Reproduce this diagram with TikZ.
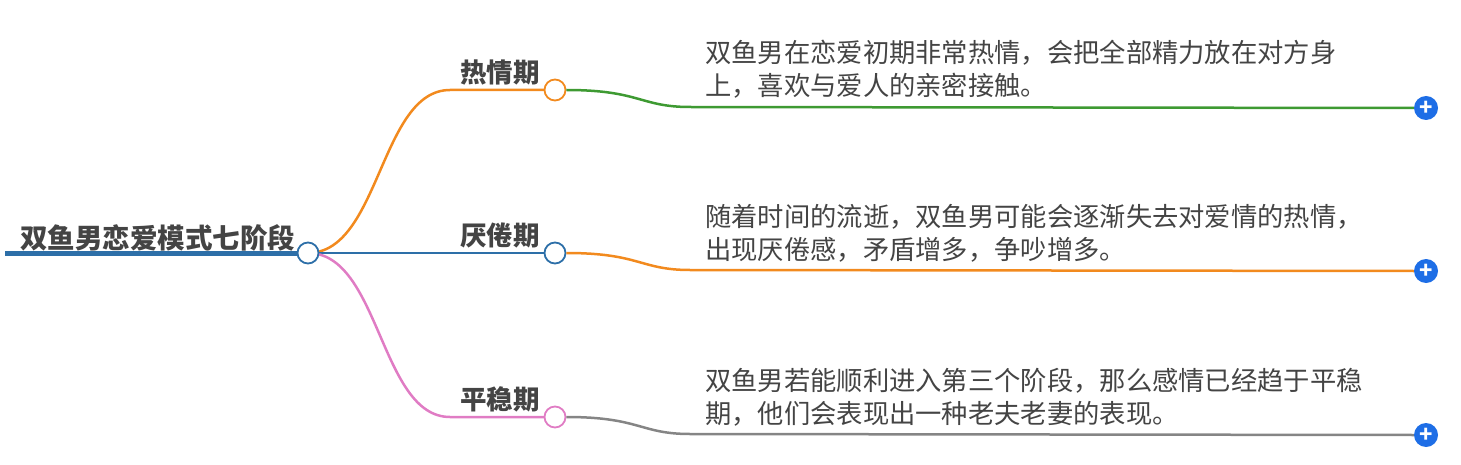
\documentclass[tikz,border=0pt]{standalone}
\usepackage{fontspec}
\setmainfont{Noto Sans CJK SC}
\definecolor{cor}{HTML}{F28A1E}
\definecolor{cgr}{HTML}{3E9A32}
\definecolor{cbl}{HTML}{2D6FA8}
\definecolor{cpk}{HTML}{E07CC4}
\definecolor{cgy}{HTML}{858585}
\definecolor{cpl}{HTML}{1E6EE6}
\definecolor{ctx}{HTML}{444444}
\tikzset{x=1pt,y=-1pt,
 dot/.style={circle,draw=#1,fill=white,line width=1.8pt,minimum size=21pt,inner sep=0pt},
 plus/.style={circle,fill=cpl,minimum size=24pt,inner sep=0pt,text=white,font=\bfseries\fontsize{22}{22}\selectfont},
 lab/.style={font=\bfseries\fontsize{26.5}{26.5}\selectfont,text=ctx,anchor=south east,inner sep=0pt},
 desc/.style={font=\fontsize{26.3}{33}\selectfont,text=ctx,anchor=north west,align=left,inner sep=0pt},
 br/.style={line width=2.5pt}}
\begin{document}
\begin{tikzpicture}
\useasboundingbox (0,0) rectangle (1461,465);
\draw[cbl,line width=5pt] (5,253) -- (300,253);
\node[font=\bfseries\fontsize{27.5}{27.5}\selectfont,text=ctx,anchor=south west,inner sep=0pt] (root) at (20,251) {双鱼男恋爱模式七阶段};
\coordinate (rc) at (308,253);
\draw[cor,br] (rc) .. controls (380,253) and (380,90) .. (450,90) -- (545,90);
\draw[cbl,br] (rc) -- (545,253);
\draw[cpk,br] (rc) .. controls (380,253) and (380,417) .. (450,417) -- (545,417);
\node[dot=cbl] (r) at (rc) {};
\node[lab] (l1) at (540,85) {热情期};
\node[lab] (l2) at (540,248) {厌倦期};
\node[lab] (l3) at (540,412) {平稳期};
\node[dot=cor] (c1) at (555,90) {};
\node[dot=cbl] (c2) at (555,253) {};
\node[dot=cpk] (c3) at (555,417) {};
\node[plus] (p1) at (1426,108) {+};
\node[plus] (p2) at (1426,271) {+};
\node[plus] (p3) at (1426,435) {+};
\draw[cgr,br] (c1.east) .. controls (640,90) and (640,107) .. (690,107) -- (p1.west);
\draw[cor,br] (c2.east) .. controls (640,253) and (640,270) .. (690,270) -- (p2.west);
\draw[cgy,br] (c3.east) .. controls (640,417) and (640,434) .. (690,434) -- (p3.west);
\node[desc] (d1) at (705,40) {双鱼男在恋爱初期非常热情，会把全部精力放在对方身\\上，喜欢与爱人的亲密接触。};
\node[desc] (d2) at (705,204) {随着时间的流逝，双鱼男可能会逐渐失去对爱情的热情，\\出现厌倦感，矛盾增多，争吵增多。};
\node[desc] (d3) at (705,368) {双鱼男若能顺利进入第三个阶段，那么感情已经趋于平稳\\期，他们会表现出一种老夫老妻的表现。};
\end{tikzpicture}
\end{document}
